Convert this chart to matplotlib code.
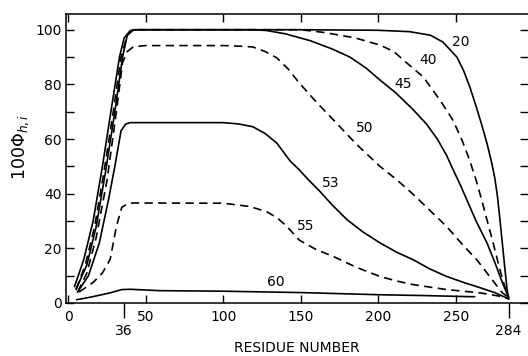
import matplotlib
matplotlib.use("Agg")
import matplotlib.pyplot as plt

# ---- data ----
x20 = [4, 10, 16, 22, 28, 33, 36, 40, 45, 100, 150, 200, 220, 233.5, 241.6, 250.6, 255, 259, 263, 266.5, 270, 273, 275, 276.8, 278.4, 280, 281.6, 283, 284]
y20 = [6, 16, 30, 50, 72, 90, 97, 99.7, 100, 100, 100, 99.8, 99.3, 98, 95.5, 90, 85, 79, 72, 65.5, 58.5, 51.5, 46, 39, 30.5, 21.5, 12.5, 5, 1.5]

x40 = [5, 11, 17, 23, 29, 34, 38, 42, 100, 150, 165, 185, 201, 210, 218, 229, 240, 248, 254, 259, 263, 266.5, 270, 274, 278, 281.5, 284]
y40 = [5, 14, 28, 48, 70, 90, 98, 100, 100, 100, 99, 97, 94.4, 92, 88, 82.7, 74, 67, 59.5, 52, 45, 38, 30.5, 22, 13, 6, 2]

x45 = [5, 12, 18, 24, 30, 35, 38, 42, 100, 120, 128, 140, 156, 170, 181.6, 192, 201, 211, 222, 231, 238, 244, 248, 253, 257, 263, 270, 275, 280, 284]
y45 = [5, 14, 28, 48, 70, 90, 98, 100, 100, 100, 99.7, 98.5, 96, 93, 90, 86, 81.6, 77, 71, 65.5, 60, 54, 49, 43, 37.8, 30, 22, 15, 7.4, 2]

x50 = [6, 12, 18, 25, 31, 35, 38, 42, 50, 100, 110, 119, 127, 134.5, 142, 149, 160, 171, 186, 201, 212, 222, 233, 244, 254, 263.5, 272, 280, 284]
y50 = [4, 11, 24, 45, 70, 88, 92, 93.8, 94.2, 94.2, 94, 93.7, 92, 89.7, 85.5, 80.5, 73.5, 67, 58, 50, 45, 40, 34, 28, 21.5, 15.8, 9.5, 3.7, 2]

x53 = [6, 13, 20, 26, 30, 34, 37, 40, 100, 110, 119, 127, 134.5, 143, 149, 155, 162, 170, 179.7, 190, 201, 212, 222.5, 233, 244, 255, 265.5, 275, 284]
y53 = [4, 10, 22, 38, 50, 63, 65.5, 66, 66, 65.5, 64.5, 62, 58.5, 52, 48.7, 45, 41, 36, 30.5, 26, 22, 18.5, 15.8, 12.5, 9.7, 7.5, 5.6, 3.8, 1.5]

x55 = [7, 16, 22, 27, 31, 34.5, 38, 42, 100, 117, 128, 135, 141, 149, 160, 171, 186, 201, 212, 222.5, 244, 265.5, 280, 284]
y55 = [4, 7.5, 11, 16, 28, 35, 36.3, 36.6, 36.5, 35.3, 33.4, 31, 28, 23, 19.5, 17, 13, 9.7, 8, 6.7, 4.9, 3.7, 2.3, 1.5]

x60 = [5.5, 15, 27, 34.5, 40, 59, 100, 150, 201, 230, 259, 262]
y60 = [1.2, 2.2, 3.7, 4.9, 5, 4.5, 4.3, 3.8, 3.0, 2.7, 2.3, 2.3]

curve_labels = ["20", "40", "45", "50", "53", "55", "60"]
label_x = [253, 232, 216, 191, 169, 153, 134]
label_y = [95.5, 89, 80, 64, 44, 28, 7.8]

x_major = [0, 50, 100, 150, 200, 250]
x_special = [36, 284]
y_major = [0, 20, 40, 60, 80, 100]
y_minor = [10, 30, 50, 70, 90]

# ---- figure ----
plt.rcParams['font.family'] = ['DejaVu Sans']
fig = plt.figure(figsize=(5.28, 3.56), dpi=100)
ax = fig.add_axes([0.125, 0.149, 0.875, 0.812])

lw = 1.2
dash = (0, (5, 3.2))
ax.plot(x20, y20, color='black', lw=lw)
ax.plot(x40, y40, color='black', lw=lw, linestyle=dash)
ax.plot(x45, y45, color='black', lw=lw)
ax.plot(x50, y50, color='black', lw=lw, linestyle=dash)
ax.plot(x53, y53, color='black', lw=lw)
ax.plot(x55, y55, color='black', lw=lw, linestyle=dash)
ax.plot(x60, y60, color='black', lw=lw)

for t, lx, ly in zip(curve_labels, label_x, label_y):
    ax.text(lx, ly, t, fontsize=10, ha='center', va='center')

ax.set_xlim(-1.5, 296.5)
ax.set_ylim(0, 105.8)

ax.set_xticks(x_major)
ax.set_yticks(y_major)
ax.set_yticks(y_minor, minor=True)
ax.tick_params(axis='both', which='both', direction='in', top=True, right=True,
               labelsize=10, width=1.0, color='black')
ax.tick_params(axis='both', which='major', length=6)
ax.tick_params(axis='both', which='minor', length=6)
ax.tick_params(axis='x', pad=5)
ax.tick_params(axis='y', pad=3)
ax.spines['right'].set_visible(False)
for s in ['left', 'bottom', 'top']:
    ax.spines[s].set_linewidth(1.1)

sec = ax.secondary_xaxis('bottom')
sec.set_xticks(x_special)
sec.tick_params(direction='out', length=11, width=1.0, labelsize=10, pad=4)
sec.spines['bottom'].set_visible(False)

ax.set_xlabel('RESIDUE NUMBER', fontsize=10, va='center')
ax.xaxis.set_label_coords(0.5, -0.155)
ax.set_ylabel(r'100$\Phi_{h,i}$', fontsize=12.5, va='center')
ax.yaxis.set_label_coords(-0.098, 0.54)

fig.savefig('out.png', dpi=100)
